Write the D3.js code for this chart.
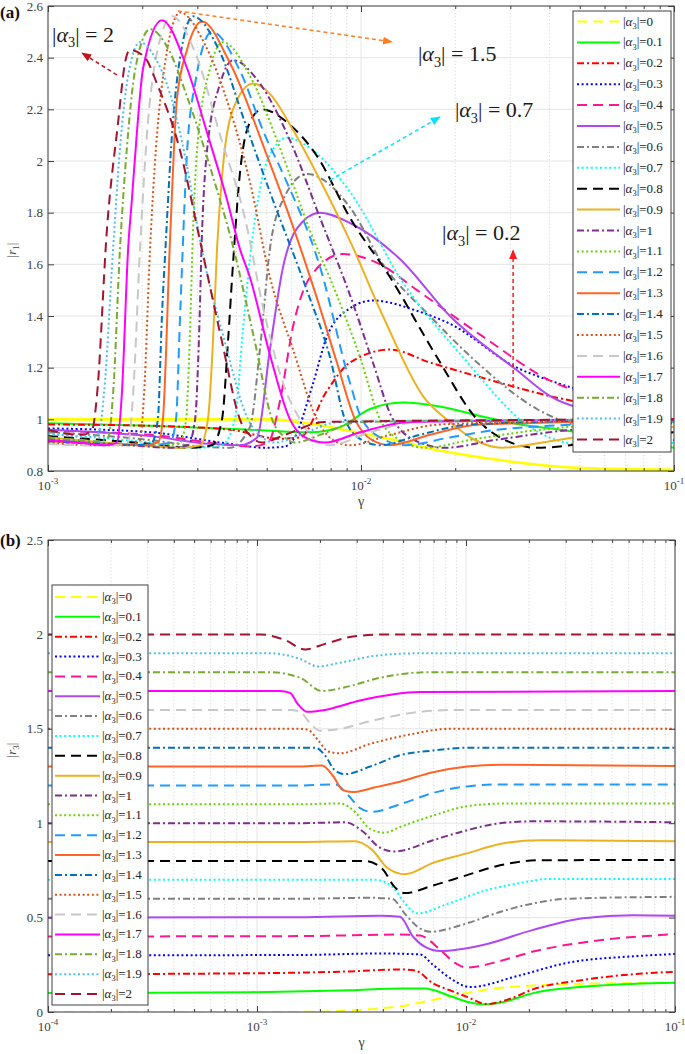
<!DOCTYPE html>
<html>
<head>
<meta charset="utf-8">
<script src="https://cdn.jsdelivr.net/npm/d3@7/dist/d3.min.js"></script>
<style>
html,body{margin:0;padding:0;background:#fff;}
svg{display:block;}
</style>
</head>
<body>
<svg id="chart" width="685" height="1054"></svg>
<script>
// ---------------- DATA ----------------
const alphaLabels = ["0","0.1","0.2","0.3","0.4","0.5","0.6","0.7","0.8","0.9","1","1.1","1.2","1.3","1.4","1.5","1.6","1.7","1.8","1.9","2"];

// Panel (a): |r1| vs gamma ; points are [log10(gamma), |r1|]
const r1_00 = [[-3,1.0],[-2.291,1.0],[-2.173,0.985],[-2.035,0.955],[-1.875,0.915],[-1.754,0.88],[-1.62,0.853],[-1.479,0.83],[-1.268,0.81],[-1,0.805]];
const r1_01 = [[-3,0.985],[-2.674,0.975],[-2.355,0.96],[-2.163,0.95],[-2.067,0.97],[-1.971,1.04],[-1.866,1.065],[-1.748,1.05],[-1.61,1.01],[-1.492,0.98],[-1.364,0.96],[-1.173,0.925],[-1,0.89]];
const r1_02 = [[-3,0.98],[-2.674,0.975],[-2.419,0.96],[-2.259,0.925],[-2.195,0.93],[-2.109,1.11],[-2.035,1.22],[-1.907,1.27],[-1.78,1.22],[-1.61,1.16],[-1.396,1.09],[-1.236,1.05],[-1,1.0]];
const r1_03 = [[-3,0.965],[-2.674,0.95],[-2.419,0.905],[-2.307,0.89],[-2.243,0.895],[-2.217,0.92],[-2.153,1.14],[-2.109,1.32],[-2.035,1.43],[-1.962,1.46],[-1.821,1.42],[-1.716,1.37],[-1.502,1.2],[-1.396,1.15],[-1.236,1.09],[-1,1.0]];
const r1_04 = [[-3,0.955],[-2.674,0.94],[-2.45,0.905],[-2.355,0.895],[-2.297,0.91],[-2.259,1.07],[-2.217,1.36],[-2.163,1.55],[-2.058,1.64],[-1.939,1.6],[-1.821,1.5],[-1.61,1.32],[-1.396,1.15],[-1.236,1.08],[-1,0.99]];
const r1_05 = [[-3,0.96],[-2.674,0.935],[-2.482,0.905],[-2.387,0.9],[-2.332,0.93],[-2.291,1.27],[-2.249,1.59],[-2.204,1.74],[-2.131,1.8],[-2.035,1.76],[-1.875,1.62],[-1.716,1.4],[-1.502,1.19],[-1.396,1.09],[-1.236,1.02],[-1.109,0.97],[-1,0.95]];
const r1_06 = [[-3,0.95],[-2.674,0.92],[-2.514,0.895],[-2.419,0.89],[-2.355,0.97],[-2.323,1.27],[-2.291,1.66],[-2.249,1.85],[-2.173,1.95],[-2.035,1.82],[-1.93,1.6],[-1.78,1.4],[-1.629,1.22],[-1.438,1.04],[-1.3,0.97],[-1.141,0.93],[-1,0.92]];
const r1_07 = [[-3,0.945],[-2.674,0.91],[-2.53,0.89],[-2.444,0.9],[-2.403,1.0],[-2.377,1.35],[-2.355,1.62],[-2.329,1.85],[-2.3,2.0],[-2.236,2.09],[-2.163,2.05],[-2.035,1.88],[-1.866,1.53],[-1.674,1.24],[-1.46,0.97],[-1.3,0.9],[-1.141,0.89],[-1,0.91]];
const r1_08 = [[-3,0.935],[-2.674,0.905],[-2.546,0.89],[-2.476,0.9],[-2.444,1.0],[-2.425,1.3],[-2.409,1.6],[-2.387,1.95],[-2.355,2.15],[-2.316,2.2],[-2.227,2.14],[-2.141,2.02],[-2.035,1.78],[-1.907,1.55],[-1.757,1.24],[-1.629,1.0],[-1.54,0.92],[-1.438,0.89],[-1.236,0.915],[-1,0.95]];
const r1_09 = [[-3,0.93],[-2.706,0.9],[-2.578,0.89],[-2.514,0.9],[-2.489,1.0],[-2.473,1.3],[-2.46,1.66],[-2.441,1.98],[-2.409,2.2],[-2.345,2.3],[-2.291,2.26],[-2.217,2.12],[-2.141,1.95],[-2.035,1.69],[-1.93,1.4],[-1.802,1.09],[-1.716,0.99],[-1.636,0.92],[-1.55,0.89],[-1.396,0.915],[-1.173,0.955],[-1,0.97]];
const r1_10 = [[-3,0.925],[-2.738,0.9],[-2.61,0.89],[-2.553,0.9],[-2.53,1.0],[-2.518,1.3],[-2.508,1.72],[-2.492,2.04],[-2.45,2.3],[-2.409,2.39],[-2.323,2.3],[-2.227,2.08],[-2.131,1.78],[-2.026,1.45],[-1.962,1.22],[-1.898,1.0],[-1.812,0.91],[-1.732,0.89],[-1.572,0.92],[-1.364,0.955],[-1,0.985]];
const r1_11 = [[-3,0.92],[-2.77,0.905],[-2.642,0.9],[-2.578,0.91],[-2.559,1.0],[-2.546,1.35],[-2.537,1.72],[-2.524,2.04],[-2.482,2.36],[-2.441,2.46],[-2.355,2.33],[-2.259,2.05],[-2.163,1.73],[-2.077,1.48],[-2.003,1.24],[-1.939,1.0],[-1.875,0.92],[-1.796,0.89],[-1.652,0.92],[-1.46,0.955],[-1,0.99]];
const r1_12 = [[-3,0.92],[-2.802,0.905],[-2.674,0.9],[-2.61,0.91],[-2.591,1.0],[-2.578,1.4],[-2.556,2.03],[-2.53,2.3],[-2.476,2.5],[-2.387,2.35],[-2.307,2.1],[-2.249,1.95],[-2.131,1.59],[-2.035,1.14],[-1.997,1.0],[-1.923,0.92],[-1.859,0.9],[-1.716,0.93],[-1.524,0.965],[-1,0.99]];
const r1_13 = [[-3,0.915],[-2.834,0.905],[-2.706,0.9],[-2.649,0.91],[-2.633,1.0],[-2.61,1.7],[-2.588,2.24],[-2.556,2.43],[-2.508,2.54],[-2.419,2.38],[-2.3,2.02],[-2.227,1.78],[-2.141,1.47],[-2.077,1.22],[-2.019,1.0],[-1.965,0.92],[-1.907,0.9],[-1.78,0.94],[-1.62,0.98],[-1,0.995]];
const r1_14 = [[-3,0.915],[-2.834,0.905],[-2.722,0.9],[-2.668,0.91],[-2.649,1.0],[-2.636,1.4],[-2.623,1.7],[-2.604,2.1],[-2.578,2.4],[-2.537,2.56],[-2.45,2.42],[-2.371,2.15],[-2.291,1.88],[-2.173,1.5],[-2.099,1.24],[-2.051,1.0],[-1.997,0.92],[-1.939,0.9],[-1.812,0.94],[-1.652,0.98],[-1,1.0]];
const r1_15 = [[-3,0.91],[-2.866,0.9],[-2.754,0.9],[-2.706,0.92],[-2.693,1.1],[-2.674,1.66],[-2.655,2.05],[-2.626,2.38],[-2.578,2.575],[-2.498,2.45],[-2.419,2.2],[-2.355,1.92],[-2.291,1.55],[-2.217,1.27],[-2.141,1.0],[-2.089,0.92],[-2.035,0.9],[-1.907,0.94],[-1.748,0.98],[-1,1.0]];
const r1_16 = [[-3,0.905],[-2.898,0.9],[-2.786,0.9],[-2.744,0.91],[-2.728,1.1],[-2.706,1.66],[-2.684,2.1],[-2.658,2.38],[-2.604,2.56],[-2.53,2.42],[-2.45,2.1],[-2.371,1.78],[-2.307,1.4],[-2.243,1.12],[-2.195,1.0],[-2.147,0.92],[-2.099,0.9],[-1.971,0.95],[-1.812,0.99],[-1,1.0]];
const r1_17 = [[-3,0.92],[-2.898,0.91],[-2.818,0.9],[-2.78,0.91],[-2.764,1.1],[-2.744,1.66],[-2.732,1.85],[-2.716,2.11],[-2.696,2.36],[-2.636,2.545],[-2.556,2.36],[-2.492,2.11],[-2.428,1.85],[-2.387,1.66],[-2.355,1.55],[-2.291,1.25],[-2.227,1.0],[-2.179,0.93],[-2.115,0.91],[-2.003,0.95],[-1.843,0.99],[-1,1.0]];
const r1_18 = [[-3,0.93],[-2.914,0.92],[-2.84,0.915],[-2.808,0.93],[-2.792,1.1],[-2.77,1.66],[-2.748,2.05],[-2.722,2.35],[-2.674,2.51],[-2.61,2.42],[-2.556,2.25],[-2.473,1.94],[-2.409,1.67],[-2.339,1.3],[-2.284,1.0],[-2.243,0.93],[-2.211,0.91],[-2.131,0.94],[-2.003,0.99],[-1,1.0]];
const r1_19 = [[-3,0.945],[-2.93,0.935],[-2.866,0.93],[-2.837,0.95],[-2.821,1.1],[-2.792,1.66],[-2.77,2.05],[-2.744,2.33],[-2.706,2.46],[-2.658,2.4],[-2.61,2.26],[-2.556,1.98],[-2.514,1.69],[-2.435,1.3],[-2.361,1.0],[-2.316,0.93],[-2.275,0.91],[-2.195,0.94],[-2.067,0.99],[-1,1.0]];
const r1_20 = [[-3,0.96],[-2.946,0.945],[-2.891,0.94],[-2.859,0.96],[-2.843,1.1],[-2.812,1.73],[-2.776,2.15],[-2.754,2.38],[-2.738,2.43],[-2.69,2.4],[-2.652,2.3],[-2.578,2.04],[-2.514,1.69],[-2.444,1.3],[-2.387,1.0],[-2.348,0.93],[-2.316,0.91],[-2.243,0.94],[-2.115,0.99],[-1,1.0]];
const r1Series = [r1_00,r1_01,r1_02,r1_03,r1_04,r1_05,r1_06,r1_07,r1_08,r1_09,r1_10,r1_11,r1_12,r1_13,r1_14,r1_15,r1_16,r1_17,r1_18,r1_19,r1_20];

// Panel (b): |r3| vs gamma ; points are [log10(gamma), |r3|]
const r3_00 = [[-4,0],[-2.9,0],[-2.651,0.003],[-2.459,0.015],[-2.316,0.03],[-2.124,0.072],[-1.919,0.116],[-1.632,0.143],[-1.297,0.152],[-1,0.155]];
const r3_01 = [[-4,0.1],[-3.033,0.105],[-2.555,0.115],[-2.316,0.125],[-2.196,0.125],[-2.077,0.085],[-1.981,0.05],[-1.909,0.04],[-1.813,0.055],[-1.679,0.1],[-1.359,0.14],[-1,0.155]];
const r3_02 = [[-4,0.2],[-3.033,0.205],[-2.555,0.215],[-2.316,0.225],[-2.244,0.22],[-2.158,0.152],[-2.077,0.115],[-1.995,0.08],[-1.9,0.042],[-1.789,0.07],[-1.679,0.12],[-1.44,0.17],[-1.201,0.2],[-1,0.213]];
const r3_03 = [[-4,0.3],[-2.794,0.302],[-2.411,0.31],[-2.22,0.305],[-2.158,0.25],[-2.077,0.18],[-1.981,0.132],[-1.756,0.19],[-1.517,0.26],[-1.201,0.295],[-1,0.307]];
const r3_04 = [[-4,0.4],[-2.794,0.402],[-2.316,0.41],[-2.22,0.405],[-2.124,0.33],[-2.053,0.26],[-1.995,0.235],[-1.837,0.27],[-1.679,0.32],[-1.359,0.38],[-1.038,0.41],[-1,0.413]];
const r3_05 = [[-4,0.5],[-2.794,0.502],[-2.411,0.51],[-2.316,0.504],[-2.254,0.4],[-2.196,0.345],[-2.124,0.323],[-1.919,0.355],[-1.679,0.435],[-1.44,0.497],[-1.201,0.513],[-1,0.51]];
const r3_06 = [[-4,0.6],[-2.794,0.6],[-2.459,0.605],[-2.354,0.6],[-2.292,0.52],[-2.23,0.45],[-2.172,0.425],[-1.995,0.47],[-1.837,0.53],[-1.679,0.575],[-1.517,0.6],[-1,0.61]];
const r3_07 = [[-4,0.7],[-2.794,0.7],[-2.435,0.7],[-2.349,0.66],[-2.292,0.575],[-2.234,0.523],[-2.077,0.577],[-1.919,0.64],[-1.756,0.68],[-1.598,0.705],[-1,0.705]];
const r3_08 = [[-4,0.8],[-2.794,0.8],[-2.483,0.8],[-2.402,0.76],[-2.34,0.66],[-2.292,0.63],[-2.158,0.67],[-1.995,0.725],[-1.837,0.777],[-1.646,0.804],[-1,0.805]];
const r3_09 = [[-4,0.9],[-2.794,0.9],[-2.531,0.905],[-2.45,0.86],[-2.373,0.76],[-2.292,0.73],[-2.158,0.79],[-1.995,0.84],[-1.837,0.89],[-1.646,0.91],[-1,0.905]];
const r3_10 = [[-4,1.0],[-2.794,1.0],[-2.579,1.005],[-2.498,0.96],[-2.411,0.87],[-2.34,0.85],[-2.158,0.91],[-1.995,0.963],[-1.837,1.0],[-1.679,1.01],[-1,1.005]];
const r3_11 = [[-4,1.1],[-2.794,1.1],[-2.603,1.105],[-2.531,1.06],[-2.459,0.97],[-2.388,0.95],[-2.316,0.98],[-2.158,1.04],[-1.995,1.09],[-1.789,1.105],[-1,1.104]];
const r3_12 = [[-4,1.2],[-2.794,1.2],[-2.627,1.205],[-2.565,1.15],[-2.507,1.08],[-2.45,1.06],[-2.316,1.1],[-2.158,1.16],[-1.995,1.195],[-1.837,1.205],[-1,1.205]];
const r3_13 = [[-4,1.3],[-2.794,1.3],[-2.689,1.305],[-2.636,1.25],[-2.589,1.175],[-2.545,1.165],[-2.435,1.19],[-2.316,1.22],[-2.158,1.27],[-1.995,1.3],[-1.837,1.31],[-1,1.303]];
const r3_14 = [[-4,1.4],[-2.794,1.4],[-2.722,1.4],[-2.675,1.36],[-2.627,1.28],[-2.579,1.26],[-2.459,1.3],[-2.316,1.36],[-2.158,1.385],[-1.981,1.4],[-1,1.4]];
const r3_15 = [[-4,1.5],[-2.794,1.5],[-2.756,1.495],[-2.708,1.44],[-2.66,1.38],[-2.603,1.37],[-2.459,1.42],[-2.268,1.47],[-2.077,1.5],[-1,1.5]];
const r3_16 = [[-4,1.6],[-2.842,1.6],[-2.794,1.59],[-2.746,1.53],[-2.699,1.49],[-2.603,1.5],[-2.459,1.54],[-2.22,1.59],[-2.029,1.6],[-1,1.6]];
const r3_17 = [[-4,1.7],[-2.89,1.7],[-2.842,1.69],[-2.804,1.63],[-2.761,1.59],[-2.675,1.6],[-2.507,1.65],[-2.22,1.695],[-1,1.7]];
const r3_18 = [[-4,1.8],[-2.938,1.8],[-2.794,1.77],[-2.689,1.7],[-2.579,1.72],[-2.411,1.77],[-2.172,1.8],[-1,1.8]];
const r3_19 = [[-4,1.9],[-2.938,1.9],[-2.794,1.87],[-2.708,1.83],[-2.603,1.85],[-2.411,1.89],[-2.22,1.9],[-1,1.9]];
const r3_20 = [[-4,2.0],[-2.986,2.0],[-2.866,1.97],[-2.77,1.92],[-2.675,1.95],[-2.531,1.99],[-2.364,2.0],[-1,2.0]];
const r3Series = [r3_00,r3_01,r3_02,r3_03,r3_04,r3_05,r3_06,r3_07,r3_08,r3_09,r3_10,r3_11,r3_12,r3_13,r3_14,r3_15,r3_16,r3_17,r3_18,r3_19,r3_20];

// Axis ticks
const xTicksA = [1e-3, 1e-2, 1e-1];
const xTickExpA = ["-3","-2","-1"];
const yTicksA = [0.8,1,1.2,1.4,1.6,1.8,2,2.2,2.4,2.6];
const xTicksB = [1e-4, 1e-3, 1e-2, 1e-1];
const xTickExpB = ["-4","-3","-2","-1"];
const yTicksB = [0,0.5,1,1.5,2,2.5];

// Annotations (panel a): labels, arrow [from, to] as [log10(gamma), |r1|], label anchor
const annotLabels = ["2","1.5","0.7","0.2"];
const annotArrowFrom = [[-2.78,2.333],[-2.585,2.581],[-2.099,1.926],[-1.514,1.121]];
const annotArrowTo   = [[-2.891,2.418],[-1.901,2.461],[-1.748,2.170],[-1.514,1.655]];
const annotTextAt    = [[-2.987,2.461],[-1.818,2.387],[-1.700,2.170],[-1.741,1.694]];

// ---------------- STYLES ----------------
const seriesColors = ["#ffff00","#00ff00","#ff0000","#0000ff","#ff1493","#b048f0","#808080","#00ffff","#000000","#edb120",
  "#7e2f8e","#66d400","#1e9bff","#ff6426","#0072bd","#d95319","#c8c8c8","#ff00ff","#77ac30","#4dbeee","#a2142f"];
const styleCycle = ["dash","solid","dashdot","dot"];
const dashMap = {solid:null, dash:"10,6", dashdot:"7,3,2,3", dot:"2,2.6"};
const dashOf = i => dashMap[styleCycle[i % 4]];
const annColors = ["#c0141e","#ff7f27","#00e5ff","#ff1a1a"];

const FONT = '"Liberation Serif","Times New Roman",Times,serif';
const AXC = "#404040";
const svg = d3.select("#chart");
const defs = svg.append("defs");

function alphaText(sel, x, y, size, rest, color){
  const t = sel.append("text").attr("x",x).attr("y",y).attr("font-family",FONT)
    .attr("font-size",size).attr("fill",color||"#1a1a1a");
  t.append("tspan").text("|");
  t.append("tspan").attr("font-style","italic").text("α");
  t.append("tspan").attr("font-size",size*0.65).attr("dy",size*0.25).text("3");
  t.append("tspan").attr("dy",-size*0.25).text("|"+rest);
  return t;
}

function drawPanel(p){
  const x = d3.scaleLog().domain(p.xDomain).range([p.left,p.right]);
  const y = d3.scaleLinear().domain(p.yDomain).range([p.bottom,p.top]);
  const g = svg.append("g");
  const minor = [];
  const e0 = Math.round(Math.log10(p.xDomain[0])), e1 = Math.round(Math.log10(p.xDomain[1]));
  for(let e=e0;e<e1;e++) for(let k=2;k<=9;k++) minor.push(k*Math.pow(10,e));
  // grid
  g.append("g").selectAll("line").data(minor).join("line")
    .attr("x1",d=>x(d)).attr("x2",d=>x(d)).attr("y1",p.top).attr("y2",p.bottom)
    .attr("stroke","#c8c8c8").attr("stroke-width",0.7).attr("stroke-dasharray","1.2,2.2");
  g.append("g").selectAll("line").data(p.xTicks).join("line")
    .attr("x1",d=>x(d)).attr("x2",d=>x(d)).attr("y1",p.top).attr("y2",p.bottom)
    .attr("stroke","#dedede").attr("stroke-width",0.8);
  g.append("g").selectAll("line").data(p.yTicks).join("line")
    .attr("x1",p.left).attr("x2",p.right).attr("y1",d=>y(d)).attr("y2",d=>y(d))
    .attr("stroke","#e2e2e2").attr("stroke-width",0.9);
  // series
  const cid = "clip"+p.id;
  defs.append("clipPath").attr("id",cid).append("rect")
    .attr("x",p.left).attr("y",p.top).attr("width",p.right-p.left).attr("height",p.bottom-p.top);
  const line = d3.line().x(d=>x(Math.pow(10,d[0]))).y(d=>y(d[1])).curve(d3.curveMonotoneX);
  const lg = g.append("g").attr("clip-path",`url(#${cid})`);
  p.series.forEach((s,i)=>{
    const solidYellow = p.yellowSolid && i===0;
    lg.append("path").attr("d",line(s)).attr("fill","none")
      .attr("stroke",seriesColors[i]).attr("stroke-width",solidYellow?2.6:2)
      .attr("stroke-dasharray",solidYellow?null:dashOf(i)).attr("stroke-linejoin","round");
  });
  // axes (inward ticks)
  const styleAxis = a => { a.select(".domain").remove(); a.selectAll("line").attr("stroke",AXC);
    a.attr("font-family",FONT).attr("font-size",13); a.selectAll("text").attr("fill",AXC); };
  g.append("g").attr("transform",`translate(0,${p.bottom})`)
    .call(d3.axisBottom(x).tickValues(p.xTicks).tickSizeInner(-6).tickSizeOuter(0).tickFormat(""))
    .call(styleAxis);
  g.append("g").attr("transform",`translate(0,${p.bottom})`)
    .call(d3.axisBottom(x).tickValues(minor).tickSizeInner(-3).tickSizeOuter(0).tickFormat(""))
    .call(styleAxis);
  g.append("g").attr("transform",`translate(0,${p.top})`)
    .call(d3.axisTop(x).tickValues(p.xTicks).tickSizeInner(-6).tickSizeOuter(0).tickFormat(""))
    .call(styleAxis);
  g.append("g").attr("transform",`translate(0,${p.top})`)
    .call(d3.axisTop(x).tickValues(minor).tickSizeInner(-3).tickSizeOuter(0).tickFormat(""))
    .call(styleAxis);
  g.append("g").attr("transform",`translate(${p.left},0)`)
    .call(d3.axisLeft(y).tickValues(p.yTicks).tickSizeInner(-6).tickSizeOuter(0).tickPadding(5).tickFormat(d3.format("~g")))
    .call(styleAxis);
  g.append("g").attr("transform",`translate(${p.right},0)`)
    .call(d3.axisRight(y).tickValues(p.yTicks).tickSizeInner(-6).tickSizeOuter(0).tickFormat(""))
    .call(styleAxis);
  // x tick labels 10^n
  p.xTicks.forEach((t,i)=>{
    const tx = g.append("text").attr("x",x(t)).attr("y",p.bottom+19).attr("text-anchor","middle")
      .attr("font-family",FONT).attr("font-size",13).attr("fill",AXC);
    tx.append("tspan").text("10");
    tx.append("tspan").attr("font-size",9).attr("dy",-6).text(p.xExp[i]);
  });
  // box
  g.append("rect").attr("x",p.left).attr("y",p.top).attr("width",p.right-p.left).attr("height",p.bottom-p.top)
    .attr("fill","none").attr("stroke",AXC).attr("stroke-width",1);
  // axis labels
  g.append("text").attr("x",(p.left+p.right)/2).attr("y",p.bottom+35).attr("text-anchor","middle")
    .attr("font-family",FONT).attr("font-size",14).attr("fill",AXC).text("γ");
  const yl = g.append("text").attr("transform",`translate(${p.ylabX},${p.ylabY}) rotate(-90)`)
    .attr("text-anchor","middle").attr("font-family",FONT).attr("font-size",13).attr("fill",AXC);
  yl.append("tspan").text("|");
  yl.append("tspan").attr("font-style","italic").text("r");
  yl.append("tspan").attr("font-size",9).attr("dy",3).text(p.ySub);
  yl.append("tspan").attr("dy",-3).text("|");
  // panel tag
  svg.append("text").attr("x",0).attr("y",p.tagY).attr("font-family",FONT).attr("font-weight","bold")
    .attr("font-size",17).attr("fill","#111").text(p.tag);
  // legend
  const L = p.legend;
  const lgd = g.append("g");
  lgd.append("rect").attr("x",L.x).attr("y",L.y).attr("width",L.w).attr("height",L.h)
    .attr("fill","#fff").attr("stroke",AXC).attr("stroke-width",1);
  alphaLabels.forEach((lab,i)=>{
    const cy = L.r0 + i*L.step;
    lgd.append("line").attr("x1",L.lx1).attr("x2",L.lx2).attr("y1",cy).attr("y2",cy)
      .attr("stroke",seriesColors[i]).attr("stroke-width",2).attr("stroke-dasharray",dashOf(i));
    alphaText(lgd, L.tx, cy+4, 13, "="+lab, "#222");
  });
  return {x,y,g};
}

const A = drawPanel({id:"a", left:48, right:674, top:6, bottom:471,
  xDomain:[1e-3,1e-1], yDomain:[0.8,2.6], xTicks:xTicksA, xExp:xTickExpA, yTicks:yTicksA,
  series:r1Series, yellowSolid:true, ySub:"1", ylabX:16, ylabY:250, tag:"(a)", tagY:18,
  legend:{x:573,y:11,w:98,h:441,r0:21.5,step:20.9,lx1:577,lx2:620,tx:623}});

const B = drawPanel({id:"b", left:48, right:675, top:540, bottom:1012,
  xDomain:[1e-4,1e-1], yDomain:[0,2.5], xTicks:xTicksB, xExp:xTickExpB, yTicks:yTicksB,
  series:r3Series, yellowSolid:false, ySub:"3", ylabX:16, ylabY:750, tag:"(b)", tagY:546,
  legend:{x:52,y:585,w:96,h:420,r0:597,step:19.85,lx1:55,lx2:100,tx:102}});

// ---------------- ANNOTATIONS (panel a) ----------------
function arrowMarker(id,color){
  defs.append("marker").attr("id",id).attr("viewBox","0 0 10 8").attr("refX",9).attr("refY",4)
    .attr("markerWidth",10).attr("markerHeight",8).attr("markerUnits","userSpaceOnUse").attr("orient","auto")
    .append("path").attr("d","M0,0 L10,4 L0,8 Z").attr("fill",color);
}
annColors.forEach((c,i)=>arrowMarker("arr"+i,c));
const xa = A.x, ya = A.y;
const ag = svg.append("g");
annotLabels.forEach((lab,i)=>{
  const f = annotArrowFrom[i], t = annotArrowTo[i];
  ag.append("line").attr("x1",xa(Math.pow(10,f[0]))).attr("y1",ya(f[1]))
    .attr("x2",xa(Math.pow(10,t[0]))).attr("y2",ya(t[1]))
    .attr("stroke",annColors[i]).attr("stroke-width",1.5).attr("stroke-dasharray","4,3")
    .attr("marker-end",`url(#arr${i})`);
  const p = annotTextAt[i];
  alphaText(ag, xa(Math.pow(10,p[0])), ya(p[1]), 22, " = "+lab, "#1a1a1a");
});
</script>
</body>
</html>
